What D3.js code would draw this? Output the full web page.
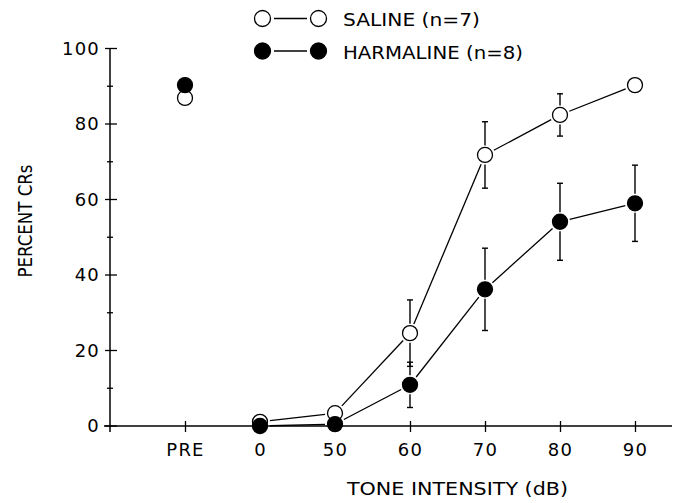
<!DOCTYPE html>
<html>
<head>
<meta charset="utf-8">
<script src="https://cdn.jsdelivr.net/npm/d3@7.9.0/dist/d3.min.js"></script>
<style>
  body { margin: 0; background: #fff; }
  svg text { font-family: 'DejaVu Sans', sans-serif; font-weight: normal; fill: #000; }
</style>
</head>
<body>
<svg id="chart" width="679" height="503"></svg>
<script>
const categories = ['PRE', '0', '50', '60', '70', '80', '90'];
const saline = [86.9, 1.1, 3.4, 24.6, 71.8, 82.4, 90.3];
const salineErr = [0, 0, 0, 8.8, 8.8, 5.6, 0];
const harmaline = [90.3, 0, 0.5, 10.9, 36.2, 54.1, 59.0];
const harmalineErr = [0, 0, 0, 6.0, 10.9, 10.2, 10.1];
const yTicks = [0, 20, 40, 60, 80, 100];
const yMinor = [10, 30, 50, 70, 90];

const svg = d3.select('#chart');
const r = 7.5;

// index scale so the axis can run past the first and last category
let x = d3.scaleLinear().domain([0, 6]).range([185, 635]);
let y = d3.scaleLinear().domain([0, 100]).range([426, 48.5]);

// y axis
let yAxis = svg.append('g').attr('transform', `translate(${110},0)`)
  .call(d3.axisLeft(y).tickValues(yTicks).tickSize(0).tickPadding(10));
yAxis.select('.domain').remove();
yAxis.selectAll('text').attr('font-size', 18).attr('fill', '#000').style('letter-spacing', '1.2px');
svg.append('line').attr('x1', 110).attr('x2', 110).attr('y1', y(100)).attr('y2', y(0) + 6)
  .attr('stroke', '#000').attr('stroke-width', 1.5);
yTicks.forEach((t) => {
  svg.append('line').attr('x1', 105).attr('x2', 117).attr('y1', y(t)).attr('y2', y(t))
    .attr('stroke', '#000').attr('stroke-width', 1.3);
});
yMinor.forEach((t) => {
  svg.append('line').attr('x1', 107).attr('x2', 113).attr('y1', y(t)).attr('y2', y(t))
    .attr('stroke', '#000').attr('stroke-width', 1.3);
});

// x axis
let xAxis = svg.append('g').attr('transform', `translate(0,${y(0)})`)
  .call(d3.axisBottom(x).tickValues(d3.range(categories.length))
    .tickFormat((i) => categories[i]).tickSize(6).tickPadding(11));
xAxis.select('.domain').remove();
xAxis.selectAll('.tick line').attr('y1', -5).attr('stroke', '#000').attr('stroke-width', 1.3);
xAxis.selectAll('text').attr('font-size', 18).attr('fill', '#000').style('letter-spacing', '1.2px');
svg.append('line').attr('x1', 104).attr('x2', 672).attr('y1', y(0)).attr('y2', y(0))
  .attr('stroke', '#000').attr('stroke-width', 1.5);

// axis titles
svg.append('text').attr('transform', `translate(32,221) rotate(-90)`)
  .attr('text-anchor', 'middle').attr('font-size', 19)
  .attr('textLength', 113).attr('lengthAdjust', 'spacingAndGlyphs')
  .text('PERCENT CRs');
svg.append('text').attr('x', 347).attr('y', 495).attr('font-size', 18)
  .attr('textLength', 221).attr('lengthAdjust', 'spacingAndGlyphs')
  .text('TONE INTENSITY (dB)');

function drawSeries(values, errs, filled) {
  let g = svg.append('g');
  // connecting lines with a gap at each marker, PRE is left alone
  for (let i = 1; i < values.length - 1; i++) {
    let x1 = x(i), y1 = y(values[i]), x2 = x(i + 1), y2 = y(values[i + 1]);
    let len = Math.hypot(x2 - x1, y2 - y1);
    let gap = r + 2.5;
    if (len <= gap * 2) continue;
    let ux = (x2 - x1) / len, uy = (y2 - y1) / len;
    g.append('line')
      .attr('x1', x1 + ux * gap).attr('y1', y1 + uy * gap)
      .attr('x2', x2 - ux * gap).attr('y2', y2 - uy * gap)
      .attr('stroke', '#000').attr('stroke-width', 1.3);
  }
  // error bars
  values.forEach((v, i) => {
    if (!errs[i]) return;
    let cx = x(i), cy = y(v);
    [[cy - r - 2, y(v + errs[i])], [cy + r + 2, y(v - errs[i])]].forEach(([a, b]) => {
      g.append('line').attr('x1', cx).attr('x2', cx).attr('y1', a).attr('y2', b)
        .attr('stroke', '#000').attr('stroke-width', 1.4);
      g.append('line').attr('x1', cx - 3).attr('x2', cx + 3).attr('y1', b).attr('y2', b)
        .attr('stroke', '#000').attr('stroke-width', 1.4);
    });
  });
  g.selectAll('circle').data(values).join('circle')
    .attr('cx', (d, i) => x(i)).attr('cy', (d) => y(d)).attr('r', r)
    .attr('fill', filled ? '#000' : '#fff')
    .attr('stroke', '#000').attr('stroke-width', 1.3);
}
drawSeries(saline, salineErr, false);
drawSeries(harmaline, harmalineErr, true);

// legend
let legend = [
  { label: 'SALINE (n=7)', filled: false, cy: 18.5, len: 137 },
  { label: 'HARMALINE (n=8)', filled: true, cy: 51, len: 180 },
];
legend.forEach((d) => {
  svg.append('line').attr('x1', 274).attr('x2', 307).attr('y1', d.cy).attr('y2', d.cy)
    .attr('stroke', '#000').attr('stroke-width', 1.3);
  [262.5, 318.5].forEach((cx) => {
    svg.append('circle').attr('cx', cx).attr('cy', d.cy).attr('r', 8)
      .attr('fill', d.filled ? '#000' : '#fff').attr('stroke', '#000').attr('stroke-width', 1.3);
  });
  svg.append('text').attr('x', 343).attr('y', d.cy + 7.5).attr('font-size', 18)
    .attr('textLength', d.len).attr('lengthAdjust', 'spacingAndGlyphs')
    .text(d.label);
});
</script>
</body>
</html>
